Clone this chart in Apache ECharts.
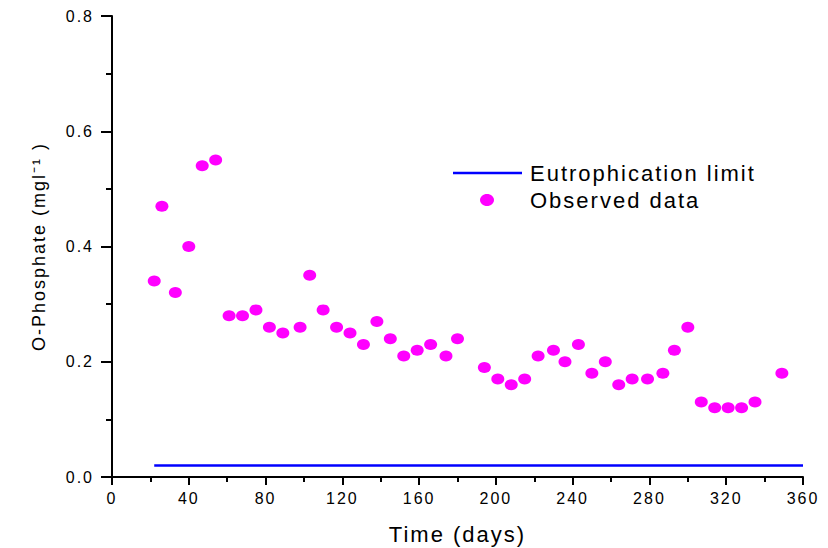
<!DOCTYPE html>
<html>
<head>
<meta charset="utf-8">
<script src="https://cdn.jsdelivr.net/npm/echarts@6/dist/echarts.min.js"></script>
<style>
  html, body { margin: 0; padding: 0; background: #fff; }
  #chart { width: 828px; height: 548px; }
  /* widen glyph spacing of every label a little */
  #chart svg text { letter-spacing: 2px; }
</style>
</head>
<body>
<div id="chart"></div>
<script>
// Sampling day of each observation
const days = [22, 26, 33, 40, 47, 54, 61, 68, 75, 82, 89, 98, 103, 110, 117, 124, 131, 138, 145, 152,
              159, 166, 174, 180, 194, 201, 208, 215, 222, 230, 236, 243, 250, 257, 264, 271, 279, 287,
              293, 300, 307, 314, 321, 328, 335, 349];
// Measured O-phosphate concentration (mg/l)
const phosphate = [0.34, 0.47, 0.32, 0.40, 0.54, 0.55, 0.28, 0.28, 0.29, 0.26, 0.25, 0.26, 0.35, 0.29,
                   0.26, 0.25, 0.23, 0.27, 0.24, 0.21, 0.22, 0.23, 0.21, 0.24, 0.19, 0.17, 0.16, 0.17,
                   0.21, 0.22, 0.20, 0.23, 0.18, 0.20, 0.16, 0.17, 0.17, 0.18, 0.22, 0.26, 0.13, 0.12,
                   0.12, 0.12, 0.13, 0.18];
// Eutrophication limit line: start/end day and level
const limitDays = [22, 360];
const limitValue = 0.02;

const FONT = '"Liberation Sans", Arial, Helvetica, sans-serif';

const chart = echarts.init(document.getElementById('chart'), null, { renderer: 'svg' });

chart.setOption({
  animation: false,
  backgroundColor: '#ffffff',
  grid: { left: 112, right: 25, top: 16, bottom: 71, containLabel: false, outerBoundsMode: 'none' },
  xAxis: {
    type: 'value',
    min: 0, max: 360, interval: 40,
    name: 'Time (days)',
    nameLocation: 'middle',
    nameGap: 46,
    nameTextStyle: { fontFamily: FONT, fontSize: 22, color: '#000' },
    axisLine: { show: true, onZero: false, lineStyle: { color: '#000', width: 2 } },
    axisTick: { show: true, inside: false, length: 8, lineStyle: { color: '#000', width: 2 } },
    minorTick: { show: true, splitNumber: 2, length: 5, lineStyle: { color: '#000', width: 2 } },
    axisLabel: { fontFamily: FONT, fontSize: 16, color: '#000', margin: 13 },
    splitLine: { show: false },
    minorSplitLine: { show: false }
  },
  yAxis: {
    type: 'value',
    min: 0, max: 0.8, interval: 0.2,
    name: 'O-Phosphate (mgl\u207B\u00B9 )',
    nameLocation: 'middle',
    nameGap: 64,
    nameTextStyle: { fontFamily: FONT, fontSize: 18, color: '#000' },
    axisLine: { show: true, onZero: false, lineStyle: { color: '#000', width: 2 } },
    axisTick: { show: true, inside: false, length: 11, lineStyle: { color: '#000', width: 2 } },
    minorTick: { show: true, splitNumber: 2, length: 6, lineStyle: { color: '#000', width: 2 } },
    axisLabel: {
      fontFamily: FONT, fontSize: 16, color: '#000', margin: 18,
      formatter: v => v.toFixed(1)
    },
    splitLine: { show: false },
    minorSplitLine: { show: false }
  },
  series: [
    {
      name: 'Eutrophication limit',
      type: 'line',
      data: limitDays.map(d => [d, limitValue]),
      symbol: 'none',
      lineStyle: { color: '#0000ff', width: 2.5 },
      z: 2
    },
    {
      name: 'Observed data',
      type: 'scatter',
      data: days.map((d, i) => [d, phosphate[i]]),
      symbol: 'circle',
      symbolSize: [13, 11],
      itemStyle: { color: '#ff00ff', opacity: 1 },
      z: 3
    }
  ],
  graphic: [
    {
      type: 'line',
      shape: { x1: 453, y1: 173, x2: 522, y2: 173 },
      style: { stroke: '#0000ff', lineWidth: 2.5 }
    },
    {
      type: 'text',
      x: 530, y: 173,
      style: { text: 'Eutrophication limit', font: '22px ' + FONT, fill: '#000', verticalAlign: 'middle' }
    },
    {
      type: 'ellipse',
      shape: { cx: 487, cy: 200, rx: 7, ry: 6 },
      style: { fill: '#ff00ff' }
    },
    {
      type: 'text',
      x: 530, y: 200,
      style: { text: 'Observed data', font: '22px ' + FONT, fill: '#000', verticalAlign: 'middle' }
    }
  ]
});
</script>
</body>
</html>
